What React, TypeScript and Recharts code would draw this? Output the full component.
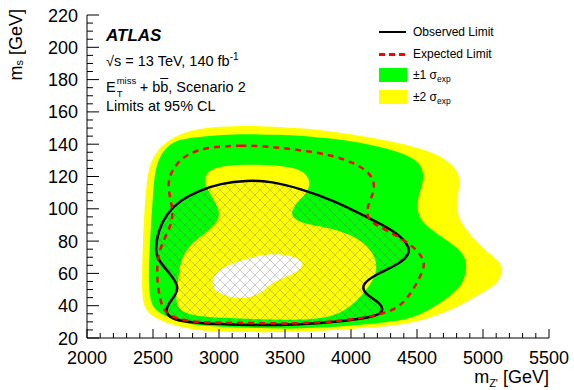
import { ScatterChart, Scatter, XAxis, YAxis } from "recharts";

// -------------------------
// DATA (m_Z' [GeV], m_s [GeV]) contour points
// -------------------------
const X_MAJOR = [2000, 2500, 3000, 3500, 4000, 4500, 5000, 5500];
const Y_MAJOR = [20, 40, 60, 80, 100, 120, 140, 160, 180, 200, 220];
const X_MINOR_STEP = 100;
const Y_MINOR_STEP = 5;

// outer edge of the +-2 sigma band
const PLUS2_SIGMA = [
  [2700, 146], [2800, 149], [3000, 151], [3300, 151.5], [3614, 150], [3900, 147.5],
  [4119, 144.5], [4350, 141], [4500, 138], [4650, 134], [4740, 129], [4800, 124],
  [4826, 119], [4815, 111], [4800, 103], [4810, 95], [4860, 88], [4960, 79],
  [5040, 73], [5110, 68], [5150, 64], [5135, 57], [5080, 52], [5000, 48.5],
  [4880, 42.5], [4750, 37], [4560, 31.5], [4370, 27.8], [4000, 25.5], [3614, 23.8],
  [3300, 23.5], [3000, 24], [2800, 25], [2630, 28.5], [2510, 32.5], [2430, 38],
  [2414, 50], [2420, 72], [2430, 93], [2447, 113], [2470, 127], [2530, 136], [2610, 142],
];

// outer edge of the +-1 sigma band
const PLUS1_SIGMA = [
  [2730, 143.5], [3000, 146], [3300, 146.2], [3614, 145.6], [3900, 143], [4119, 140.4],
  [4370, 135.2], [4490, 130.5], [4545, 125], [4550, 117.7], [4520, 110], [4500, 103.4],
  [4510, 96], [4550, 91], [4640, 85], [4725, 80.5], [4800, 76], [4850, 72],
  [4878, 66], [4865, 58], [4826, 51.5], [4721, 44], [4621, 39], [4500, 33.5],
  [4370, 30.5], [4000, 27.5], [3614, 25.7], [3300, 26], [3000, 27], [2800, 28],
  [2654, 31.5], [2528, 36], [2472, 43], [2464, 62], [2488, 93], [2500, 110],
  [2515, 123], [2545, 131.5], [2600, 138], [2660, 141.5],
];

// inner edge of the +-1 sigma band
const MINUS1_SIGMA = [
  [2907, 122.8], [3008, 127], [3311, 127.6], [3563, 125.9], [3664, 121.8], [3695, 115.6],
  [3660, 109], [3614, 106], [3560, 100.5], [3545, 96], [3600, 92], [3712, 89.8],
  [3917, 87], [4119, 79], [4195, 68], [4195, 59.8], [4119, 49.5], [3993, 39],
  [3866, 33], [3614, 31], [3311, 31.5], [3000, 32.5], [2856, 33.3], [2705, 36],
  [2667, 43.3], [2692, 55.7], [2705, 68], [2780, 78.4], [2932, 86.7], [3008, 94],
  [2995, 101], [2932, 109.4], [2881, 116.6],
];

// inner edge of the +-2 sigma band
const MINUS2_SIGMA = [
  [2945, 55.7], [2983, 62], [3159, 68], [3361, 72.6], [3563, 71.2], [3652, 66],
  [3600, 61], [3480, 57], [3400, 54], [3311, 47.4], [3210, 44.3], [3058, 45.3], [2957, 49.5],
];

const OBSERVED = [
  [3008, 115.6], [3210, 117.7], [3400, 117], [3614, 112.5], [3866, 105.3], [4119, 94.9],
  [4321, 86.7], [4434, 78.4], [4447, 72.2], [4371, 66], [4195, 59.8], [4068, 52.6],
  [4119, 46.4], [4233, 41.2], [4245, 36], [4169, 32.9], [3866, 29.8], [3614, 28.4],
  [3311, 27.8], [3000, 28.5], [2755, 29.8], [2642, 31.9], [2591, 36], [2616, 41.2],
  [2679, 47.4], [2692, 52.6], [2629, 59.8], [2540, 68], [2515, 74.3], [2540, 86.7],
  [2604, 97], [2705, 105.3], [2856, 111.5],
];

const EXPECTED = [
  [2932, 138.3], [3159, 139.4], [3400, 138.5], [3614, 136.3], [3866, 133.2], [4068, 127],
  [4169, 119.7], [4182, 111.5], [4119, 101.1], [4119, 92.9], [4270, 86.7], [4472, 77.4],
  [4561, 68], [4548, 61.9], [4472, 49.5], [4371, 39.1], [4245, 35], [3993, 30.9],
  [3614, 28.8], [3311, 29.2], [3000, 29.5], [2805, 29.8], [2629, 32.9], [2566, 39.1],
  [2540, 49.5], [2528, 61.9], [2540, 72.2], [2591, 82.5], [2654, 92.9], [2642, 103.2],
  [2604, 115.6], [2654, 125.9], [2755, 134.2],
];

// -------------------------
// STYLE
// -------------------------
const FONT = "'Liberation Sans', Arial, Helvetica, sans-serif";
const YELLOW = "#ffff00";
const GREEN = "#00ff00";
const RED = "#ff0000";

const toPts = (arr: number[][]) => arr.map(([x, y]) => ({ x, y }));

const xTicks: number[] = [];
for (let v = X_MAJOR[0]; v <= X_MAJOR[X_MAJOR.length - 1]; v += X_MINOR_STEP) xTicks.push(v);
const yTicks: number[] = [];
for (let v = Y_MAJOR[0]; v <= Y_MAJOR[Y_MAJOR.length - 1]; v += Y_MINOR_STEP) yTicks.push(v);

const noDot = () => <g />;

function BottomTick(props: any) {
  const { x, y, payload } = props;
  const major = X_MAJOR.includes(payload.value);
  return (
    <g>
      <line x1={x} x2={x} y1={y} y2={y - (major ? 9 : 5)} stroke="#000" />
      {major && (
        <text x={x} y={y + 25.5} textAnchor="middle" fontSize={18} fontFamily={FONT} fill="#000">
          {payload.value}
        </text>
      )}
    </g>
  );
}

function TopTick(props: any) {
  const { x, y, payload } = props;
  const major = X_MAJOR.includes(payload.value);
  return <line x1={x} x2={x} y1={y} y2={y + (major ? 9 : 5)} stroke="#000" />;
}

function LeftTick(props: any) {
  const { x, y, payload } = props;
  const major = Y_MAJOR.includes(payload.value);
  return (
    <g>
      <line x1={x} x2={x + (major ? 12 : 6)} y1={y} y2={y} stroke="#000" />
      {major && (
        <text x={x - 9} y={y + 6.5} textAnchor="end" fontSize={18} fontFamily={FONT} fill="#000">
          {payload.value}
        </text>
      )}
    </g>
  );
}

function RightTick(props: any) {
  const { x, y, payload } = props;
  const major = Y_MAJOR.includes(payload.value);
  return <line x1={x} x2={x - (major ? 12 : 6)} y1={y} y2={y} stroke="#000" />;
}

const txt = (left: number, top: number, size: number, extra: any = {}) => ({
  position: "absolute" as const,
  left,
  top,
  fontSize: size,
  lineHeight: `${size}px`,
  whiteSpace: "nowrap" as const,
  color: "#000",
  ...extra,
});

export default function App() {
  return (
    <div
      style={{
        position: "absolute",
        left: 0,
        top: 0,
        width: 574,
        height: 390,
        background: "#fff",
        fontFamily: FONT,
      }}
    >
      <ScatterChart width={574} height={390} margin={{ top: 15, right: 25, bottom: 0, left: 0 }}>
        <defs>
          <pattern id="hatch" width={10} height={10} patternUnits="userSpaceOnUse">
            <path d="M0,0 L10,10 M10,0 L0,10" stroke="rgba(90,90,90,0.4)" strokeWidth={0.8} />
          </pattern>
        </defs>

        <XAxis
          xAxisId="b"
          dataKey="x"
          type="number"
          domain={[2000, 5500]}
          ticks={xTicks}
          interval={0}
          height={52}
          tickSize={0}
          tickMargin={0}
          tickLine={false}
          axisLine={{ stroke: "#000" }}
          tick={<BottomTick />}
        />
        <XAxis
          xAxisId="t"
          orientation="top"
          type="number"
          domain={[2000, 5500]}
          ticks={xTicks}
          interval={0}
          height={0}
          tickSize={0}
          tickMargin={0}
          tickLine={false}
          axisLine={{ stroke: "#000" }}
          tick={<TopTick />}
        />
        <YAxis
          yAxisId="l"
          dataKey="y"
          type="number"
          domain={[20, 220]}
          ticks={yTicks}
          interval={0}
          width={87}
          tickSize={0}
          tickMargin={0}
          tickLine={false}
          axisLine={{ stroke: "#000" }}
          tick={<LeftTick />}
        />
        <YAxis
          yAxisId="r"
          orientation="right"
          type="number"
          domain={[20, 220]}
          ticks={yTicks}
          interval={0}
          width={0}
          tickSize={0}
          tickMargin={0}
          tickLine={false}
          axisLine={{ stroke: "#000" }}
          tick={<RightTick />}
        />

        <Scatter
          data={toPts(PLUS2_SIGMA)}
          xAxisId="b"
          yAxisId="l"
          shape={noDot}
          line={{ fill: YELLOW, stroke: "none" }}
          lineJointType="basisClosed"
          isAnimationActive={false}
        />
        <Scatter
          data={toPts(PLUS1_SIGMA)}
          xAxisId="b"
          yAxisId="l"
          shape={noDot}
          line={{ fill: GREEN, stroke: "none" }}
          lineJointType="basisClosed"
          isAnimationActive={false}
        />
        <Scatter
          data={toPts(MINUS1_SIGMA)}
          xAxisId="b"
          yAxisId="l"
          shape={noDot}
          line={{ fill: YELLOW, stroke: "none" }}
          lineJointType="basisClosed"
          isAnimationActive={false}
        />
        <Scatter
          data={toPts(MINUS2_SIGMA)}
          xAxisId="b"
          yAxisId="l"
          shape={noDot}
          line={{ fill: "#ffffff", stroke: "none" }}
          lineJointType="basisClosed"
          isAnimationActive={false}
        />
        <Scatter
          data={toPts(OBSERVED)}
          xAxisId="b"
          yAxisId="l"
          shape={noDot}
          line={{ fill: "url(#hatch)", stroke: "#000", strokeWidth: 2.5 }}
          lineJointType="basisClosed"
          isAnimationActive={false}
        />
        <Scatter
          data={toPts(EXPECTED)}
          xAxisId="b"
          yAxisId="l"
          shape={noDot}
          line={{ fill: "none", stroke: RED, strokeWidth: 2.5, strokeDasharray: "6 5" }}
          lineJointType="basisClosed"
          isAnimationActive={false}
        />
      </ScatterChart>

      {/* ATLAS label block */}
      <div style={txt(106, 26.5, 17, { fontWeight: 700, fontStyle: "italic" })}>ATLAS</div>
      <div style={txt(106, 53.5, 14.5)}>
        √s = 13 TeV, 140 fb<sup style={{ fontSize: 10, verticalAlign: 6, lineHeight: 0 }}>-1</sup>
      </div>
      <div style={txt(106, 79.5, 14.5)}>
        E
        <span style={{ display: "inline-block", position: "relative", width: 24, height: 10 }}>
          <span style={{ position: "absolute", left: 1, top: -6, fontSize: 9.5, lineHeight: "10px" }}>miss</span>
          <span style={{ position: "absolute", left: 1, top: 7, fontSize: 9.5, lineHeight: "10px" }}>T</span>
        </span>
        + b<span style={{ textDecoration: "overline" }}>b</span>, Scenario 2
      </div>
      <div style={txt(106, 98.5, 14.5)}>Limits at 95% CL</div>

      {/* legend */}
      <div style={{ position: "absolute", left: 379, top: 30.5, width: 27, height: 2.5, background: "#000" }} />
      {[0, 1, 2].map((i) => (
        <div
          key={i}
          style={{ position: "absolute", left: 379 + i * 10, top: 52.5, width: 6, height: 3, background: RED }}
        />
      ))}
      <div style={{ position: "absolute", left: 379, top: 68, width: 28, height: 14, background: GREEN }} />
      <div style={{ position: "absolute", left: 379, top: 90, width: 28, height: 14, background: YELLOW }} />
      <div style={txt(413, 26, 12)}>Observed Limit</div>
      <div style={txt(413, 48, 12)}>Expected Limit</div>
      <div style={txt(413, 69, 12)}>
        ±1 σ<sub style={{ fontSize: 8.5, verticalAlign: -3, lineHeight: 0 }}>exp</sub>
      </div>
      <div style={txt(413, 91, 12)}>
        ±2 σ<sub style={{ fontSize: 8.5, verticalAlign: -3, lineHeight: 0 }}>exp</sub>
      </div>

      {/* axis titles */}
      <div
        style={{
          position: "absolute",
          left: 7,
          top: 9,
          fontSize: 18,
          lineHeight: "18px",
          whiteSpace: "nowrap",
          writingMode: "vertical-rl",
          transform: "rotate(180deg)",
        }}
      >
        m<sub style={{ fontSize: 11, verticalAlign: -3, lineHeight: 0 }}>s</sub> [GeV]
      </div>
      <div
        style={{
          position: "absolute",
          right: 25,
          top: 368,
          fontSize: 18,
          lineHeight: "18px",
          whiteSpace: "nowrap",
          textAlign: "right",
        }}
      >
        m<sub style={{ fontSize: 11, verticalAlign: -4, lineHeight: 0 }}>Z'</sub> [GeV]
      </div>
    </div>
  );
}
